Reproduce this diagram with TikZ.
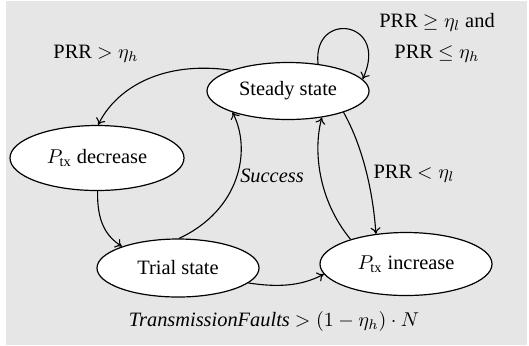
\documentclass[tikz,border=0pt]{standalone}
\usepackage{fontspec}
\setmainfont{Liberation Serif}
\usetikzlibrary{shapes.geometric,arrows.meta}
\definecolor{bggray}{HTML}{E6E6E6}
\begin{document}
\begin{tikzpicture}[x=0.5pt,y=-0.5pt,
  state/.style={ellipse,draw=black,fill=white,line width=0.6pt,inner sep=0pt,font=\fontsize{10.2}{12}\selectfont},
  trans/.style={draw=black,line width=0.55pt,-{To[length=3.2pt,width=5pt]}},
  lbl/.style={font=\fontsize{10.2}{12}\selectfont,inner sep=0pt}]
\useasboundingbox (0,0) rectangle (529,345);
\fill[bggray] (6,1) rectangle (527,345);
\node[state,minimum width=81pt,minimum height=28.5pt] (steady) at (288,91) {Steady state};
\node[state,minimum width=87pt,minimum height=32.5pt] (dec) at (97,158) {$P_{\mathrm{tx}}$ decrease};
\node[state,minimum width=81pt,minimum height=29pt] (trial) at (178,268) {Trial state};
\node[state,minimum width=86pt,minimum height=31.5pt] (inc) at (406,264) {$P_{\mathrm{tx}}$ increase};

\draw[trans] (steady.160) .. controls (160,60) and (115,90) .. (dec.88);
\draw[trans] (steady.42) .. controls (312,10) and (390,20) .. (steady.9);
\draw[trans] (dec.-89) .. controls (97,222) and (106,236) .. (trial.159);
\draw[trans] (trial.88) .. controls (240,210) and (252,150) .. (steady.201);
\draw[trans] (steady.-21) .. controls (362,145) and (373,190) .. (inc.135);
\draw[trans] (inc.156) .. controls (318,200) and (313,150) .. (steady.322);
\draw[trans] (trial.-12) .. controls (275,287) and (300,287) .. (inc.187);

\node[lbl] (l1) at (96,54) {PRR $>\eta_h$};
\node[lbl] (l2) at (437,22) {PRR $\geq\eta_l$ and};
\node[lbl] (l3) at (437,54) {PRR $\leq\eta_h$};
\node[lbl] (l4) at (272,176) {\textit{Success}};
\node[lbl] (l5) at (414,174) {PRR $<\eta_l$};
\node[lbl] (l6) at (274,321) {\textit{TransmissionFaults} $>(1-\eta_h)\cdot N$};
\end{tikzpicture}
\end{document}
